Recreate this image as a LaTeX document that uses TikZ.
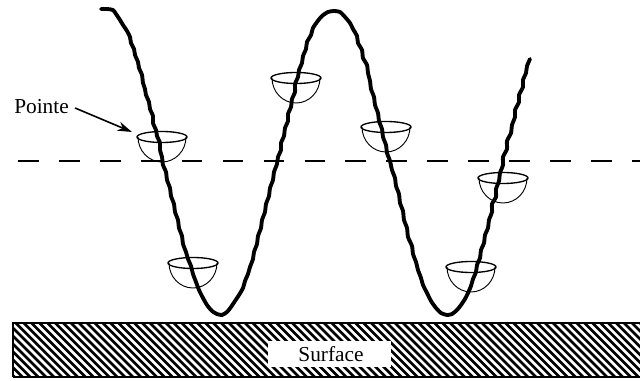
\documentclass[tikz,border=0pt]{standalone}
\usepackage{fontspec}
\setmainfont{Liberation Serif}
\usetikzlibrary{arrows.meta}
\tikzset{
  px/.style={x=0.75pt,y=-0.75pt},
  tipcurve/.style={line width=2.9pt,line join=round,line cap=round},
  cupline/.style={line width=0.7pt},
  rimline/.style={line width=1pt},
  hatchline/.style={line width=2pt},
  lbl/.style={font=\fontsize{16}{18}\selectfont,inner sep=0pt}
}
\newcommand{\cupat}[2]{%
  \draw[cupline] (#1-24,#2) arc[start angle=180,end angle=0,x radius=24,y radius=25];
  \draw[rimline] (#1,#2) ellipse[x radius=25,y radius=5.5];
}
\begin{document}
\begin{tikzpicture}[px]
\useasboundingbox (0,0) rectangle (640,381);
% surface
\begin{scope}
\clip (13,323) rectangle (640,377);
\foreach \i in {-10,...,90}{
  \draw[hatchline] ({\i*7.9},323) -- ({\i*7.9+54},377);
}
\end{scope}
\draw[line width=1.2pt] (13,377) -- (13,323) -- (640,323);
\draw[line width=1.2pt] (13,377) -- (640,377);
\node[fill=white,minimum width=92pt,minimum height=20pt,inner sep=0pt] (surf) at (329.5,354) {};
\node[lbl] (surflabel) at (331,354) {Surface};
% dashed reference
\coordinate (dashA) at (18,161);
\coordinate (dashB) at (640,161);
\draw[line width=1.2pt,dash pattern=on 15.5pt off 15.2pt] (dashA) -- (dashB);
% cups
\cupat{162}{137}
\cupat{296}{78}
\cupat{386}{127}
\cupat{503}{178}
\cupat{471}{267}
\cupat{193}{263}
% tip trajectory
\draw[tipcurve] plot[smooth,tension=0.4] coordinates {
 (101,9) (107,9) (113,10) (116,14) (120,20) (123,25) (127,31) (130,37) (131,43) (134,49) (135,55)
 (138,62) (139,68) (142,75) (143,83) (145,89) (146,95) (149,102) (150,109) (153,116) (153,123)
 (156,130) (157,136) (160,143) (160,150) (162,157) (163,165) (166,172) (167,180) (170,188)
 (171,196) (174,204) (175,212) (178,220) (179,228) (182,236) (183,244) (186,252) (188,259)
 (191,266) (193,274) (196,282) (199,290) (203,298) (207,305) (212,311) (217,314) (222,315)
 (227,312) (231,307) (235,301) (239,295) (243,288) (245,281) (248,274) (250,267) (253,259)
 (254,252) (257,244) (258,236) (261,228) (262,220) (265,212) (266,204) (269,196) (270,188)
 (273,180) (274,172) (277,164) (278,157) (281,150) (281,143) (284,136) (285,128) (288,121)
 (288,114) (291,107) (292,99) (295,92) (295,84) (298,77) (299,70) (302,63) (303,56) (306,49)
 (307,42) (311,35) (313,28) (317,22) (322,16) (328,12) (334,11) (340,12) (345,17) (350,23)
 (353,29) (357,36) (358,43) (362,50) (363,58) (367,65) (368,73) (370,81) (371,89) (374,97)
 (375,105) (378,113) (379,121) (382,129) (383,137) (386,145) (387,153) (390,161) (392,170)
 (395,178) (396,186) (399,194) (400,203) (403,211) (404,220) (407,228) (408,237) (412,246)
 (413,254) (416,262) (418,270) (421,278) (423,285) (427,293) (431,301) (436,308) (441,313)
 (447,315) (452,314) (457,310) (461,305) (465,299) (468,293) (471,286) (473,279) (476,272)
 (477,265) (480,258) (481,250) (484,243) (485,235) (488,228) (489,220) (492,212) (492,204)
 (496,197) (496,189) (499,181) (500,173) (503,165) (503,157) (507,149) (507,141) (511,133)
 (512,125) (515,117) (515,110) (519,102) (519,95) (523,87) (523,80) (526,73) (527,66) (530,59)};
% label
\node[lbl,anchor=west] (pointe) at (14,107) {Pointe};
\coordinate (tip) at (132,132);
\draw[line width=1.2pt,-{Stealth[length=11pt,width=7pt]}] ([shift={(6,1)}]pointe.east) -- (tip);
\end{tikzpicture}
\end{document}
